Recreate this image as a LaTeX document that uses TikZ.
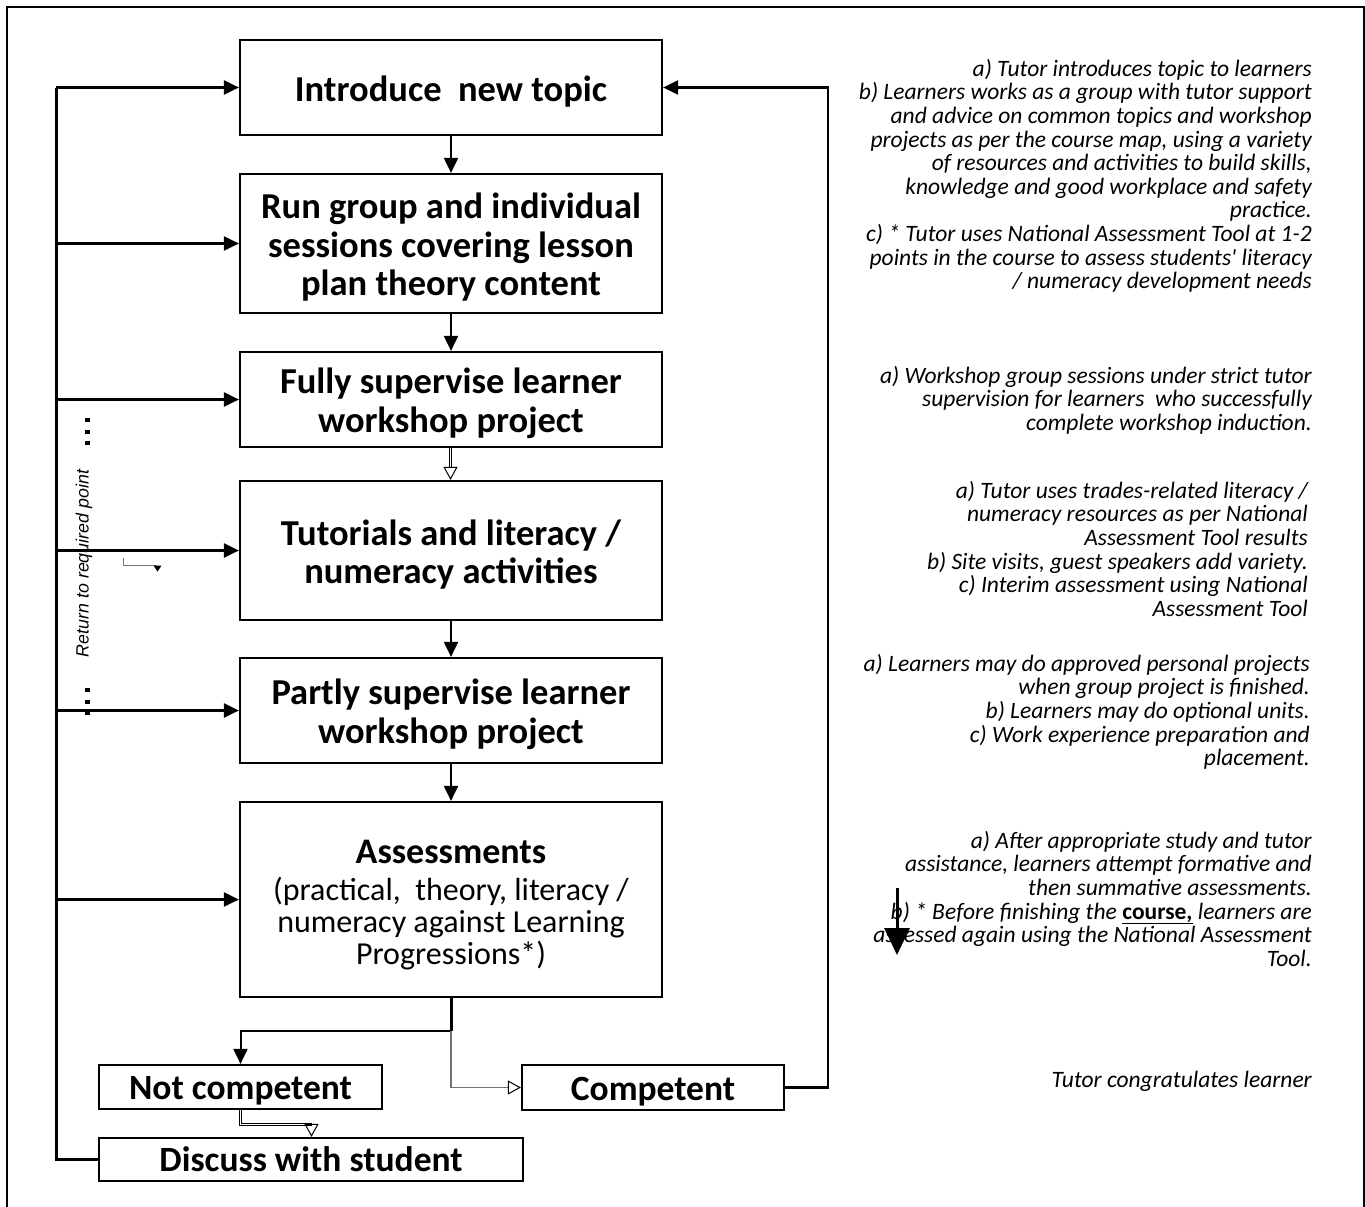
\documentclass[tikz,border=0pt]{standalone}
\usepackage{fontspec}
\setmainfont{Carlito}
\newfontfamily\labelfont{Liberation Sans}
\usetikzlibrary{arrows.meta}

\newcommand{\firstline}{\rule{0pt}{19pt}}
\newcommand{\padtop}[1]{\rule{0pt}{#1}}

\begin{document}
\begin{tikzpicture}[x=1pt,y=-1pt,
  stepbox/.style={draw, line width=2.2pt, inner sep=0pt, align=center,
    minimum width=422pt, font=\bfseries\fontsize{36.5}{38.5}\selectfont},
  smallbox/.style={draw, line width=2.2pt, inner sep=0pt, align=center,
    font=\bfseries\fontsize{35.5}{38.5}\selectfont},
  flow/.style={line width=2pt, -{Triangle[length=15pt,width=14pt]}},
  loopline/.style={line width=3pt},
  branch/.style={line width=2.4pt, -{Triangle[length=15pt,width=14pt]}},
  twin/.style={draw=white, line width=1pt, preaction={draw=black, line width=3pt}},
  hollowtip/.style={line width=1pt, -{Triangle[open,length=13pt,width=14pt]}},
  greyflow/.style={draw=black!55, line width=1.6pt,
    -{Triangle[open,length=13pt,width=14pt,line width=1pt,color=black]}},
  note/.style={anchor=north east, inner sep=0pt, align=right,
    font=\itshape\fontsize{23.5}{23.6}\selectfont},
]
\useasboundingbox (0,0) rectangle (1365,1207);

% page frame
\draw[line width=2.3pt] (7,1215) -- (7,7) -- (1364,7) -- (1364,1215);

% main sequence of steps
\node[stepbox, minimum height=95pt]  (intro)  at (451,87.5)  {\padtop{33pt}Introduce\ \ new topic};
\node[stepbox, minimum height=139pt] (run)    at (451,243.5) {\padtop{33pt}Run group and individual\\sessions covering lesson\\plan theory content};
\node[stepbox, minimum height=95pt]  (fully)  at (451,399.5) {\padtop{33pt}Fully supervise learner\\workshop project};
\node[stepbox, minimum height=139pt] (tut)    at (451,550.5) {\padtop{34pt}Tutorials and literacy /\\numeracy activities};
\node[stepbox, minimum height=105pt] (partly) at (451,710.5) {\padtop{33pt}Partly supervise learner\\workshop project};
\node[stepbox, minimum height=195pt, font=\mdseries\fontsize{32}{32}\selectfont] (assess) at (451,899.5)
  {{\bfseries\fontsize{36}{32}\selectfont\padtop{35pt}Assessments}\\[5pt](practical,\ \ theory, literacy /\\numeracy against Learning\\Progressions*)};

% outcomes
\node[smallbox, minimum width=283pt, minimum height=44pt] (notc) at (240.5,1087) {\padtop{31pt}Not competent};
\node[smallbox, minimum width=262pt, minimum height=45pt] (comp) at (653,1087.5) {\padtop{31pt}Competent};
\node[smallbox, minimum width=424pt, minimum height=43pt] (disc) at (311,1159.5) {Discuss with student};

% forward flow
\draw[flow] (intro.south) -- (run.north);
\draw[flow] (run.south) -- (fully.north);
\coordinate (ft) at (450.5,467);
\draw[twin] (ft |- fully.south) -- (ft);
\draw[hollowtip] (ft) -- (ft |- tut.north);
\draw[flow] (tut.south) -- (partly.north);
\draw[flow] (partly.south) -- (assess.north);

% result split
\coordinate (split) at (451,1031);
\draw[line width=3pt] (assess.south) -- (split);
\draw[flow] (split) -| (notc.north);
\draw[greyflow] (split) |- (comp.west);
\coordinate (nbend) at (240.5,1124.5);
\coordinate (dtop) at (311.5,1124.5);
\draw[twin] (nbend |- notc.south) -- (nbend) -- (dtop);
\draw[hollowtip] (dtop) -- (dtop |- disc.north);

% competent: back to a new topic
\coordinate (rt) at (828,87.5);
\draw[branch] (comp.east) -| (rt) -- (intro.east);

% not competent: return to required point
\coordinate (lt) at (56,87.5);
\draw[loopline] (disc.west) -| (lt);
\draw[branch] (lt) -- (intro.west);
\foreach \b in {run,fully,tut,partly,assess}
  \draw[branch] (lt |- \b.west) -- (\b.west);

\node[rotate=90, inner sep=0pt, font=\labelfont\itshape\fontsize{17.8}{20}\selectfont] (ret) at (84,563.5) {Return to required point};
\foreach \y in {420,431.5,443,690,701.5,713}
  \fill (85,\y-2) rectangle (89.5,\y+2);
\draw[black!55, line width=0.9pt] (123,558) -- (123,565) -- (157,565);
\fill (153.5,565.5) -- (161.5,565.5) -- (157.5,571.5) -- cycle;

% notes beside the steps
\node[note] (n1) at (1312,57) {\firstline a) Tutor introduces topic to learners\\
b) Learners works as a group with tutor support\\
and advice on common topics and workshop\\
projects as per the course map, using a variety\\
of resources and activities to build skills,\\
knowledge and good workplace and safety\\
practice.\\
c) * Tutor uses National Assessment Tool at 1-2\\
points in the course to assess students\textquotesingle\ literacy\\
/ numeracy development needs};

\node[note] (n2) at (1312,364) {\firstline a) Workshop group sessions under strict tutor\\
supervision for learners\ \ who successfully\\
complete workshop induction.\ };

\node[note] (n3) at (1308,479) {\firstline a) Tutor uses trades-related literacy /\\
numeracy resources as per National\\
Assessment Tool results\\
b) Site visits, guest speakers add variety.\\
c) Interim assessment using National\\
Assessment Tool};

\node[note] (n4) at (1310,652) {\firstline a) Learners may do approved personal projects\\
when group project is finished.\\
b) Learners may do optional units.\\
c) Work experience preparation and\\
placement.};

\node[note] (n5) at (1312,829) {\firstline a) After appropriate study and tutor\\
assistance, learners attempt formative and\\
then summative assessments.\\
b) * Before finishing the \underline{\textbf{\upshape course,}} learners are\\
assessed again using the National Assessment\\
Tool.};

\node[note] (n6) at (1312,1068) {\firstline Tutor congratulates learner};

\coordinate (na) at (897,888);
\coordinate (nb) at (897,955);
\draw[line width=3pt, -{Triangle[length=27pt,width=25pt]}] (na) -- (nb);

\end{tikzpicture}
\end{document}
